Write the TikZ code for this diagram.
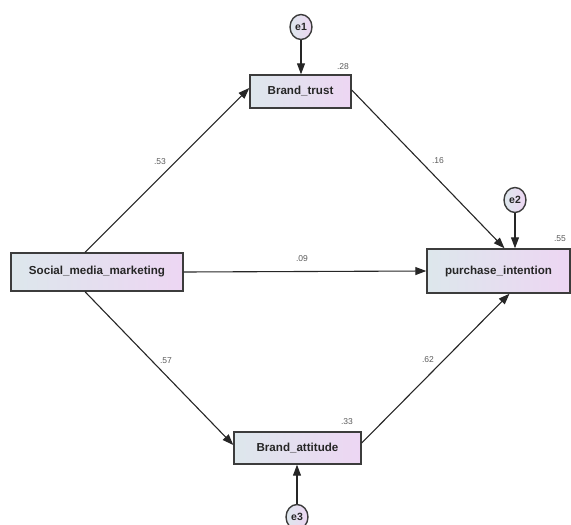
\documentclass[tikz,border=0pt]{standalone}
\usepackage{fontspec}
\setmainfont{Liberation Sans}
\usetikzlibrary{arrows.meta,calc,shapes.geometric}
\definecolor{boxL}{RGB}{221,231,236}
\definecolor{boxR}{RGB}{237,214,243}
\definecolor{edgeC}{RGB}{60,60,60}
\definecolor{lblC}{RGB}{90,90,90}
\begin{document}
\begin{tikzpicture}[x=1pt,y=-1pt,
  obs/.style={draw=edgeC, line width=1.4pt, left color=boxL, right color=boxR,
    font=\fontsize{11.6}{13}\selectfont\bfseries, text=black!85, inner sep=0pt},
  err/.style={ellipse, draw=edgeC, line width=1.4pt, left color=boxL, right color=boxR,
    font=\fontsize{10.5}{12}\selectfont\bfseries, text=black!85, inner sep=0pt,
    minimum width=22pt, minimum height=25pt},
  path/.style={draw=black!85, line width=1.1pt, -{Triangle[length=11pt,width=8pt]}},
  coef/.style={font=\fontsize{8.5}{9}\selectfont, text=lblC, inner sep=0pt}]
\useasboundingbox (0,0) rectangle (571,525);
\node[obs, minimum width=101pt, minimum height=33pt] (bt) at (300.5,91.5) {Brand\_trust};
\node[obs, minimum width=172pt, minimum height=38pt] (smm) at (97,272) {Social\_media\_marketing};
\node[obs, minimum width=143pt, minimum height=44pt] (pi) at (498.5,271) {purchase\_intention};
\node[obs, minimum width=127pt, minimum height=32pt] (ba) at (297.5,448) {Brand\_attitude};
\node[err] (e1) at (301,27) {e1};
\node[err] (e2) at (515,200) {e2};
\node[err] (e3) at (297,517) {e3};
\draw[path] ($(smm.north)+(-12,0)$) -- ($(bt.west)+(0,-3.5)$);
\draw[path] ($(bt.east)+(0,-1.5)$) -- ($(pi.north)+(6,0)$);
\draw[path] (smm.east) -- (pi.west);
\draw[path] ($(smm.south)+(-12,0)$) -- ($(ba.west)+(0,-3)$);
\draw[path] ($(ba.east)+(0,-5)$) -- ($(pi.south)+(11,0)$);
\draw[path] (e1.south) -- (e1.south |- bt.north);
\draw[path] (e2.south) -- (e2.south |- pi.north);
\draw[path] (e3.north) -- (e3.north |- ba.south);
\node[coef] (r1) at (343,67) {.28};
\node[coef] (r2) at (560,239) {.55};
\node[coef] (r3) at (347,422) {.33};
\node[coef] (c1) at (160,162) {.53};
\node[coef] (c2) at (438,161) {.16};
\node[coef] (c3) at (302,259) {.09};
\node[coef] (c4) at (166,361) {.57};
\node[coef] (c5) at (428,360) {.62};
\end{tikzpicture}
\end{document}
